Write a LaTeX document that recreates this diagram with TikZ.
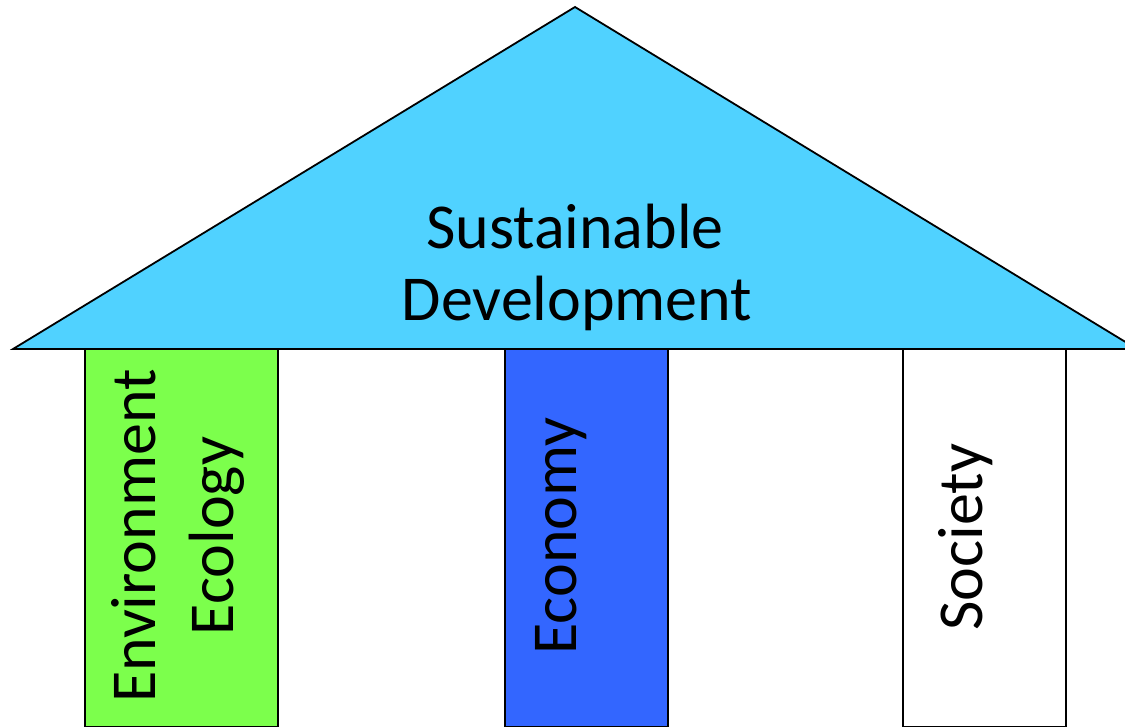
\documentclass[tikz,border=0pt]{standalone}
\usepackage{fontspec}
\setmainfont{Carlito}
\definecolor{roofblue}{HTML}{50D2FF}
\definecolor{ecogreen}{HTML}{7CFF4C}
\definecolor{econblue}{HTML}{3366FF}
\begin{document}
\begin{tikzpicture}[x=1pt,y=-1pt,
  edge/.style={draw=black,line width=1.8pt,line join=miter},
  lbl/.style={inner sep=0pt,anchor=base,font=\fontsize{64}{76}\selectfont},
  vlbl/.style={lbl,rotate=90}]
\useasboundingbox (0,0) rectangle (1125,726);
\clip (0,0) rectangle (1125,726);
% pillars
\draw[edge,fill=ecogreen] (85,349) rectangle (278,727);
\draw[edge,fill=econblue] (505,349) rectangle (668,727);
\draw[edge,fill=white] (903,349) rectangle (1066,727);
% roof
\draw[edge,fill=roofblue] (13,349) -- (575,7) -- (1137,349) -- cycle;
% labels
\node[lbl] (sus) at (575,248) {Sustainable};
\node[lbl] (dev) at (577,320) {Development};
\node[vlbl] (env) at (155,536) {Environment};
\node[vlbl] (ecol) at (233,536) {Ecology};
\node[vlbl] (econ) at (576,536) {Economy};
\node[vlbl] (soc) at (982,537) {Society};
\end{tikzpicture}
\end{document}
